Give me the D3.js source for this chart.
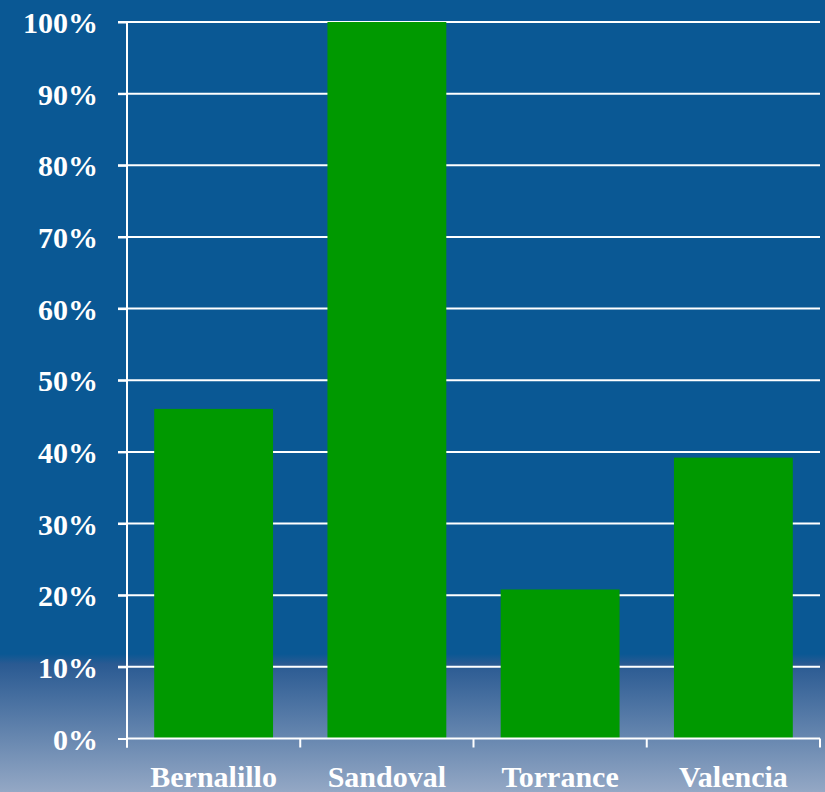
<!DOCTYPE html>
<html><head><meta charset="utf-8">
<script src="https://cdn.jsdelivr.net/npm/d3@7"></script>
<style>html,body{margin:0;padding:0;background:#0a5894;}svg{display:block;}</style>
</head><body>
<script>
const categories = ["Bernalillo", "Sandoval", "Torrance", "Valencia"];
const values = [46, 100, 20.8, 39.2];
const yTicks = [0, 10, 20, 30, 40, 50, 60, 70, 80, 90, 100];

const W = 825, H = 792;
const margin = {left: 127, right: 5, top: 22, bottom: 53.5};
const svg = d3.select("body").append("svg").attr("width", W).attr("height", H);

const defs = svg.append("defs");
const grad = defs.append("linearGradient").attr("id", "bg").attr("x1", 0).attr("y1", 0).attr("x2", 0).attr("y2", 1);
grad.append("stop").attr("offset", "0").attr("stop-color", "#0a5894");
grad.append("stop").attr("offset", String(654/792)).attr("stop-color", "#0a5894");
grad.append("stop").attr("offset", String(664/792)).attr("stop-color", "#2a5a92");
grad.append("stop").attr("offset", "1").attr("stop-color", "#94a8c5");
svg.append("rect").attr("width", W).attr("height", H).attr("fill", "url(#bg)");

const x = d3.scaleBand().domain(categories).range([margin.left, W - margin.right])
  .paddingInner(0.314).paddingOuter(0.157);
const y = d3.scaleLinear().domain([0, 100]).range([H - margin.bottom, margin.top]);

// gridlines
svg.append("g").selectAll("line").data(yTicks.filter(d => d > 0)).join("line")
  .attr("x1", margin.left - 9).attr("x2", W - margin.right)
  .attr("y1", d => y(d)).attr("y2", d => y(d))
  .attr("stroke", "#ffffff").attr("stroke-width", 2);

// bars
svg.append("g").selectAll("rect").data(values).join("rect")
  .attr("x", (d, i) => x(categories[i]))
  .attr("width", x.bandwidth())
  .attr("y", d => y(d))
  .attr("height", d => y(0) - y(d))
  .attr("fill", "#009900");

// y axis
const yAxis = svg.append("g").attr("transform", `translate(${margin.left},0)`)
  .call(d3.axisLeft(y).tickValues(yTicks).tickSize(9).tickPadding(20).tickFormat(d => d + "%"));
yAxis.select(".domain").remove();
yAxis.selectAll(".tick line").attr("stroke", "#fff").attr("stroke-width", 2);
yAxis.selectAll("text").attr("fill", "#fff")
  .style("font-family", "'Liberation Serif','Times New Roman',serif")
  .style("font-weight", "bold").style("font-size", "30px").attr("dy", "0.35em");
svg.append("line").attr("x1", margin.left).attr("x2", margin.left)
  .attr("y1", y(100)).attr("y2", y(0) + 9).attr("stroke", "#fff").attr("stroke-width", 2);

// x axis
const xg = svg.append("g").attr("transform", `translate(0,${y(0)})`);
xg.append("line").attr("x1", margin.left).attr("x2", W - margin.right)
  .attr("y1", 0).attr("y2", 0).attr("stroke", "#fff").attr("stroke-width", 2);
const bounds = categories.map(c => x(c) - x.step() * x.paddingInner() / 2);
bounds.push(W - margin.right);
xg.selectAll("line.sep").data(bounds).join("line").attr("class", "sep")
  .attr("x1", d => d).attr("x2", d => d).attr("y1", 0).attr("y2", 9)
  .attr("stroke", "#fff").attr("stroke-width", 2);
xg.selectAll("text").data(categories).join("text")
  .attr("x", d => x(d) + x.bandwidth() / 2).attr("y", 48.5)
  .attr("text-anchor", "middle").attr("fill", "#fff")
  .style("font-family", "'Liberation Serif','Times New Roman',serif")
  .style("font-weight", "bold").style("font-size", "30px")
  .text(d => d);
</script>
</body></html>
